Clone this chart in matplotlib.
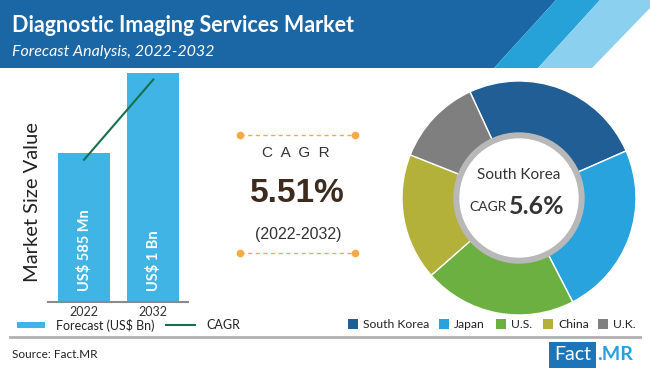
import matplotlib
matplotlib.use("Agg")
import matplotlib.pyplot as plt
from matplotlib.patches import Polygon, Rectangle, Circle

# data
years = ["2022", "2032"]
bar_heights = [0.65, 1.0]          # relative bar heights as drawn
bar_labels = ["US$ 585 Mn", "US$ 1 Bn"]
cagr_line = [0.62, 0.97]
cagr_value = "5.51%"
cagr_period = "(2022-2032)"

countries = ["South Korea", "Japan", "U.S.", "China", "U.K."]
shares = [25.3, 24.0, 21.1, 17.5, 12.1]
country_colors = ["#215e96", "#29a3de", "#6db042", "#b3b13a", "#7f7f7f"]
focus_country = "South Korea"
focus_cagr = "5.6%"

W, H = 650, 370
fig = plt.figure(figsize=(6.5, 3.7), dpi=100)
fig.patch.set_facecolor("white")

# background axes in pixel coords
bg = fig.add_axes([0, 0, 1, 1])
bg.set_xlim(0, W)
bg.set_ylim(H, 0)
bg.axis("off")

# header band
bg.add_patch(Polygon([(0, 0), (556, 0), (494, 68), (0, 68)], closed=True, color="#1b66a4", lw=0))
bg.add_patch(Polygon([(556, 0), (600, 0), (538, 68), (494, 68)], closed=True, color="#27a2d9", lw=0))
bg.add_patch(Polygon([(600, 0), (650, 0), (650, 8), (592, 68), (538, 68)], closed=True, color="#8bd0ee", lw=0))
bg.text(12, 25, "Diagnostic Imaging Services Market", color="white", fontsize=15.5,
        fontweight="bold", family="Lato", va="center", ha="left")
bg.text(12, 52, "Forecast Analysis, 2022-2032", color="white", fontsize=11.5,
        style="italic", family="Lato", va="center", ha="left")

# y label of the bar chart
bg.text(33, 202, "Market Size Value", rotation=90, fontsize=14.5, family="Lato",
        color="#222222", ha="center", va="center")

# bar chart
def px(x0, y0, x1, y1):
    return [x0 / W, 1 - y1 / H, (x1 - x0) / W, (y1 - y0) / H]

ax = fig.add_axes(px(48, 68, 188, 302))
ax.set_facecolor("none")
xs = [0, 1]
ax.bar(xs, bar_heights, width=0.75, color="#3fb4e5", zorder=2)
ax.plot(xs, cagr_line, color="#16714a", lw=1.5, zorder=3)
for x, lab in zip(xs, bar_labels):
    ax.text(x, 0.05, lab, rotation=90, color="white", fontsize=10.5, fontweight="bold",
            family="Lato", ha="center", va="bottom")
ax.set_xlim(-0.52, 1.5)
ax.set_ylim(0, 1.02)
ax.set_xticks(xs)
ax.set_xticklabels(years, fontsize=9, color="#333333", family="Lato")
ax.tick_params(axis="x", length=0, pad=3)
ax.set_yticks([])
for s in ["top", "left", "right"]:
    ax.spines[s].set_visible(False)
ax.spines["bottom"].set_color("#8a8a8a")
ax.spines["bottom"].set_linewidth(1.5)

# bar legend
bg.add_patch(Rectangle((17, 322), 28, 6, color="#3fb4e5", lw=0))
bg.text(56, 325, "Forecast (US$ Bn)", fontsize=9, family="Lato", color="#222222", va="center")
bg.plot([166, 195], [325, 325], color="#16714a", lw=1.5)
bg.text(206, 325, "CAGR", fontsize=9, family="Lato", color="#222222", va="center")

# CAGR block
orange = "#f5a947"
for yy in [135, 253]:
    bg.plot([240, 355], [yy, yy], color=orange, lw=1, ls=(0, (3, 2.5)))
    bg.plot([240, 355], [yy, yy], "o", color=orange, ms=4.5)
bg.text(296, 153, "C  A  G  R", fontsize=11, family="Liberation Sans", color="#333333",
        ha="center", va="center")
bg.text(297, 194, cagr_value, fontsize=24, fontweight="bold", family="Liberation Sans",
        color="#3d2b1f", ha="center", va="center")
bg.text(298, 235, cagr_period, fontsize=11.5, family="Liberation Sans", color="#333333",
        ha="center", va="center")

# donut
cx, cy, R = 519, 198, 120
dax = fig.add_axes(px(cx - R, cy - R, cx + R, cy + R))
dax.pie(shares, colors=country_colors, startangle=114.8, counterclock=False,
        radius=117 / R, wedgeprops=dict(width=(117 - 64) / R, edgecolor="white", linewidth=1))
dax.set_xlim(-1, 1)
dax.set_ylim(-1, 1)
dax.set_aspect("equal")
dax.axis("off")
dax.add_patch(Circle((0, 0), 65 / R, color="#b8b8b8", zorder=5))
dax.add_patch(Circle((0, 0), 59 / R, color="white", zorder=6))
dax.text(0, 23 / R, focus_country, fontsize=11, family="Lato", color="#333333",
         ha="center", va="center", zorder=7)
dax.text(-12 / R, -9 / R, "CAGR", fontsize=10, family="Lato", color="#333333",
         ha="right", va="center", zorder=7)
dax.text(-10 / R, -9 / R, focus_cagr, fontsize=18, fontweight="bold", family="Lato",
         color="#333333", ha="left", va="center", zorder=7)

# donut legend
leg_x = [348, 439, 496, 543, 598]
for x, name, c in zip(leg_x, countries, country_colors):
    bg.add_patch(Rectangle((x, 319), 10, 10, color=c, lw=0))
    bg.text(x + 15, 324, name, fontsize=8.7, family="Lato", color="#222222", va="center")

# footer
bg.plot([10, 640], [337, 337], color="#b0b0b0", lw=2)
bg.text(12, 354, "Source: Fact.MR", fontsize=8.5, family="Lato", color="#222222", va="center")
bg.add_patch(Rectangle((549, 342), 47, 26, color="#1c75b9", lw=0))
bg.text(572.5, 355, "Fact", fontsize=14, family="Lato", color="white", ha="center", va="center")
bg.text(597, 355, ".MR", fontsize=14, family="Lato", fontweight="bold", color="#29a0dc",
        ha="left", va="center")

fig.savefig("out.png", dpi=100)
